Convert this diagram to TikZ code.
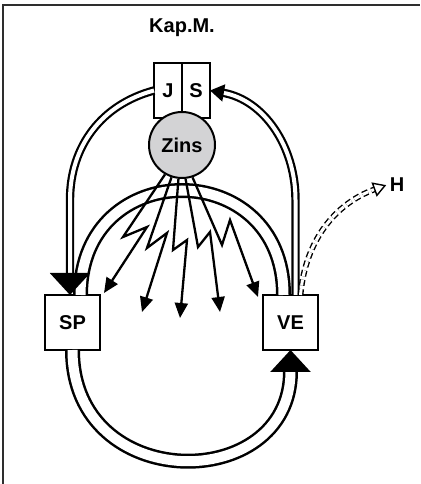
\documentclass[tikz,border=0pt]{standalone}
\usepackage{fontspec}
\setmainfont{Liberation Sans}
\usepackage{tikz}
\usetikzlibrary{arrows.meta,positioning,calc}
\definecolor{zinsgray}{HTML}{D3D3D5}
\definecolor{framegray}{HTML}{2E2E2E}

\begin{document}
\begin{tikzpicture}[x=1pt, y=1pt, >=Stealth,
    lbl/.style={font=\bfseries\fontsize{20}{24}\selectfont},
    box/.style={draw, line width=2pt, inner sep=0pt, outer sep=0pt, lbl},
    flow/.style={line width=2.2pt, double=white, double distance=4pt},
    wideflow/.style={line width=2.5pt, double=white, double distance=10pt},
    ray/.style={line width=2.3pt, -{Triangle[length=15pt,width=13pt]}},
    bigtip/.style={-{Triangle[length=22pt,width=40pt]}}]
    \useasboundingbox (0,0) rectangle (420,484);
    % Frame
    \draw[line width=2pt, framegray] (3,0) -- (3,479) -- (420,479);

    % Capital market
    \node[lbl, anchor=base] (kapm) at (182,451) {Kap.M.};
    \node[box, minimum width=28pt, minimum height=55pt] (jbox) at (168,393.5) {J};
    \node[box, minimum width=28pt, minimum height=55pt, right=0pt of jbox] (sbox) {S};

    % Sectors
    \node[box, minimum size=55pt] (sp) at (72.5,161.5) {SP};
    \node[box, minimum size=55pt] (ve) at (290.5,161.5) {VE};

    % Circular flows
    \draw[wideflow] ([xshift=8pt]sp.north) to[out=90, in=90, looseness=1.76] ([xshift=-7pt]ve.north);
    \draw[wideflow, bigtip] (sp.south) to[out=-90, in=-90, looseness=1.7] (ve.south);
    \draw[flow, bigtip] (jbox.west) to[out=195, in=90] ($(sp.north)+(-2.5,95)$) -- ([xshift=-2.5pt]sp.north);
    \draw[flow, -{Triangle[length=14pt,width=17pt]}] ([xshift=5pt]ve.north) -- ++(0,95) to[out=90, in=-10] (sbox.east);

    % Interest rate
    \node[circle, draw, line width=2pt, fill=zinsgray, minimum size=66pt, inner sep=0pt, lbl] (zins) at (182,339) {Zins};

    % Rays from Zins
    \coordinate (t1) at (104,191);
    \coordinate (t2) at (142,172);
    \coordinate (t3) at (180,166);
    \coordinate (t4) at (220,172);
    \coordinate (t5) at (258,187);
    \draw[ray] (zins.240) -- (123,247) -- (147,257) -- (t1);
    \draw[ray] (zins.252) -- (147,236) -- (167,251) -- (t2);
    \draw[ray] (zins.264) -- (173,234) -- (187,244) -- (t3);
    \draw[ray] (zins.276) -- (198,237) -- (210,252) -- (t4);
    \draw[ray] (zins.288) -- (222,239) -- (230,264) -- (t5);

    % Hoarding
    \node[lbl, anchor=base] (hlbl) at (397,292) {H};
    \draw[line width=1.4pt, double=white, double distance=3pt, dash pattern=on 6pt off 3.5pt,
        -{Triangle[open,length=13pt,width=15pt]}] ([xshift=10pt]ve.north) to[out=85, in=200] (hlbl.west);
\end{tikzpicture}
\end{document}
